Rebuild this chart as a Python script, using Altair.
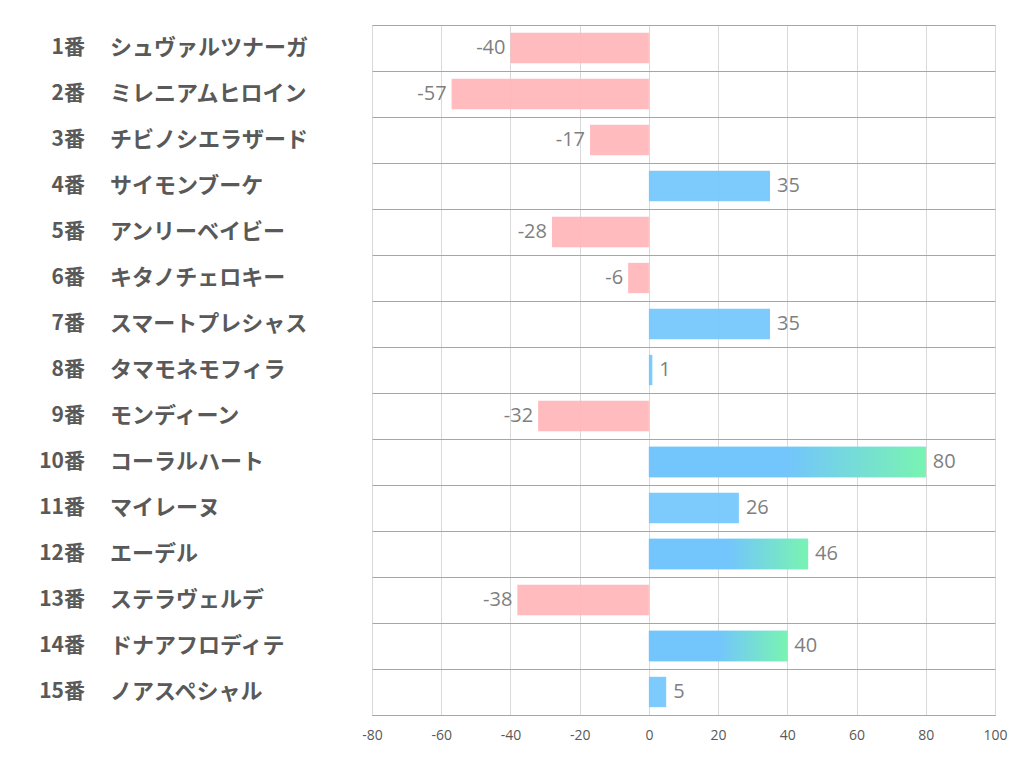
import altair as alt
import pandas as pd

nums = ["1番","2番","3番","4番","5番","6番","7番","8番","9番","10番","11番","12番","13番","14番","15番"]
names = ["シュヴァルツナーガ","ミレニアムヒロイン","チビノシエラザード","サイモンブーケ","アンリーベイビー",
         "キタノチェロキー","スマートプレシャス","タマモネモフィラ","モンディーン","コーラルハート",
         "マイレーヌ","エーデル","ステラヴェルデ","ドナアフロディテ","ノアスペシャル"]
values = [-40, -57, -17, 35, -28, -6, 35, 1, -32, 80, 26, 46, -38, 40, 5]
x_ticks = [-80, -60, -40, -20, 0, 20, 40, 60, 80, 100]

df = pd.DataFrame({"num": nums, "name": names, "value": values})
df["key"] = df["num"]
df["sign"] = ["neg" if v < 0 else "pos" for v in values]
df["big"] = [v >= 40 for v in values]

order = nums
xs = alt.Scale(domain=[-80, 100], nice=False)
ys = alt.Scale(domain=order, paddingInner=0, paddingOuter=0)

base = alt.Chart(df).transform_calculate(label="'' + datum.value")

x_enc = alt.X("value:Q", scale=xs,
              axis=alt.Axis(values=x_ticks, title=None, grid=True, gridColor="#d9d9d9",
                            domainColor="#a6a6a6", ticks=False, labelFontSize=14,
                            labelColor="#595959", labelPadding=13, labelFont="Open Sans",
                            labelFlush=False, labelExpr="'' + datum.value"))
y_enc = alt.Y("key:N", scale=ys, sort=order,
              axis=alt.Axis(title=None, labels=False, ticks=False, domain=False,
                            grid=True, gridColor="#a6a6a6", tickBand="extent"))

bars = base.mark_bar(opacity=0.92, height={"band": 0.66}).encode(
    x=x_enc, x2=alt.datum(0), y=y_enc,
    color=alt.Color("sign:N", scale=alt.Scale(domain=["neg", "pos"], range=["#ffb5b9", "#72c5fc"]), legend=None),
)

grad = base.transform_filter("datum.big").mark_bar(
    opacity=0.92, height={"band": 0.66},
    color=alt.LinearGradient(gradient="linear", x1=0, x2=1, y1=0, y2=0,
                             stops=[alt.GradientStop(offset=0, color="#72c5fc"),
                                    alt.GradientStop(offset=0.5, color="#72c5fc"),
                                    alt.GradientStop(offset=1, color="#78f7ab")])
).encode(x=alt.X("value:Q", scale=xs), x2=alt.datum(0), y=alt.Y("key:N", scale=ys, sort=order))

lab_neg = base.transform_filter("datum.value < 0").mark_text(
    align="right", baseline="middle", dx=-5, fontSize=20, color="#7f7f7f", font="Open Sans"
).encode(x=alt.X("value:Q", scale=xs), y=alt.Y("key:N", scale=ys, sort=order), text="label:N")

lab_pos = base.transform_filter("datum.value >= 0").mark_text(
    align="left", baseline="middle", dx=7, fontSize=20, color="#7f7f7f", font="Open Sans"
).encode(x=alt.X("value:Q", scale=xs), y=alt.Y("key:N", scale=ys, sort=order), text="label:N")

num_txt = base.mark_text(
    align="right", baseline="middle", fontSize=21, fontWeight="bold", color="#595959",
    font="Noto Sans CJK JP"
).encode(x=alt.value(-287), y=alt.Y("key:N", scale=ys, sort=order), text="num:N")

name_txt = base.mark_text(
    align="left", baseline="middle", fontSize=22, fontWeight="bold", color="#595959",
    font="Noto Sans CJK JP"
).encode(x=alt.value(-262), y=alt.Y("key:N", scale=ys, sort=order), text="name:N")

chart = alt.layer(bars, grad, lab_neg, lab_pos, num_txt, name_txt).properties(
    width=623, height=690,
    autosize=alt.AutoSizeParams(type="none"),
    padding={"left": 364, "top": 17, "right": 19, "bottom": 59},
).configure_view(stroke=None).configure(background="white")

chart.save("out.html", embed_options={"renderer": "svg", "actions": False})
